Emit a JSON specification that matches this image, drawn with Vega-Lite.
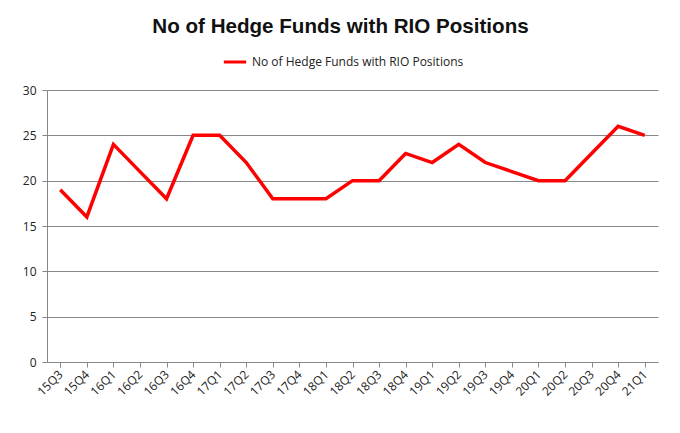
{
  "$schema": "https://vega.github.io/schema/vega-lite/v6.json",
  "autosize": "none",
  "width": 611,
  "height": 272,
  "padding": {"left": 47, "top": 90, "right": 22, "bottom": 71},
  "background": "white",
  "title": {
    "text": "No of Hedge Funds with RIO Positions",
    "font": "Liberation Sans",
    "fontSize": 20.6,
    "fontWeight": "bold",
    "color": "#111111",
    "anchor": "middle",
    "dx": -12,
    "baseline": "alphabetic",
    "offset": -5
  },
  "config": {
    "view": {"stroke": null},
    "font": "Open Sans"
  },
  "data": {
    "values": [
      {"q": "15Q3", "n": 19, "s": "No of Hedge Funds with RIO Positions"},
      {"q": "15Q4", "n": 16, "s": "No of Hedge Funds with RIO Positions"},
      {"q": "16Q1", "n": 24, "s": "No of Hedge Funds with RIO Positions"},
      {"q": "16Q2", "n": 21, "s": "No of Hedge Funds with RIO Positions"},
      {"q": "16Q3", "n": 18, "s": "No of Hedge Funds with RIO Positions"},
      {"q": "16Q4", "n": 25, "s": "No of Hedge Funds with RIO Positions"},
      {"q": "17Q1", "n": 25, "s": "No of Hedge Funds with RIO Positions"},
      {"q": "17Q2", "n": 22, "s": "No of Hedge Funds with RIO Positions"},
      {"q": "17Q3", "n": 18, "s": "No of Hedge Funds with RIO Positions"},
      {"q": "17Q4", "n": 18, "s": "No of Hedge Funds with RIO Positions"},
      {"q": "18Q1", "n": 18, "s": "No of Hedge Funds with RIO Positions"},
      {"q": "18Q2", "n": 20, "s": "No of Hedge Funds with RIO Positions"},
      {"q": "18Q3", "n": 20, "s": "No of Hedge Funds with RIO Positions"},
      {"q": "18Q4", "n": 23, "s": "No of Hedge Funds with RIO Positions"},
      {"q": "19Q1", "n": 22, "s": "No of Hedge Funds with RIO Positions"},
      {"q": "19Q2", "n": 24, "s": "No of Hedge Funds with RIO Positions"},
      {"q": "19Q3", "n": 22, "s": "No of Hedge Funds with RIO Positions"},
      {"q": "19Q4", "n": 21, "s": "No of Hedge Funds with RIO Positions"},
      {"q": "20Q1", "n": 20, "s": "No of Hedge Funds with RIO Positions"},
      {"q": "20Q2", "n": 20, "s": "No of Hedge Funds with RIO Positions"},
      {"q": "20Q3", "n": 23, "s": "No of Hedge Funds with RIO Positions"},
      {"q": "20Q4", "n": 26, "s": "No of Hedge Funds with RIO Positions"},
      {"q": "21Q1", "n": 25, "s": "No of Hedge Funds with RIO Positions"}
    ]
  },
  "mark": {"type": "line", "strokeWidth": 3.5, "strokeJoin": "miter", "strokeCap": "butt"},
  "encoding": {
    "x": {
      "field": "q",
      "type": "ordinal",
      "sort": null,
      "scale": {"type": "point", "padding": 0.5},
      "axis": {
        "title": null,
        "labelAngle": -45,
        "labelAlign": "right",
        "labelBaseline": "middle",
        "labelFontSize": 12,
        "labelColor": "#222222",
        "labelPadding": 5,
        "domainColor": "#888888",
        "tickColor": "#888888",
        "tickBand": "extent",
        "tickSize": 5,
        "grid": false
      }
    },
    "y": {
      "field": "n",
      "type": "quantitative",
      "scale": {"domain": [0, 30]},
      "axis": {
        "title": null,
        "values": [0, 5, 10, 15, 20, 25, 30],
        "labelFontSize": 12,
        "labelColor": "#222222",
        "labelPadding": 6,
        "domainColor": "#888888",
        "tickColor": "#888888",
        "tickSize": 5,
        "gridColor": "#888888",
        "gridOpacity": 1
      }
    },
    "color": {
      "field": "s",
      "type": "nominal",
      "scale": {"range": ["#ff0000"]},
      "legend": {
        "title": null,
        "orient": "none",
        "legendX": 175,
        "legendY": -41,
        "symbolType": "stroke",
        "symbolSize": 500,
        "symbolStrokeWidth": 3,
        "labelFontSize": 12,
        "labelLimit": 400,
        "labelColor": "#222222",
        "labelFont": "Open Sans"
      }
    }
  }
}
